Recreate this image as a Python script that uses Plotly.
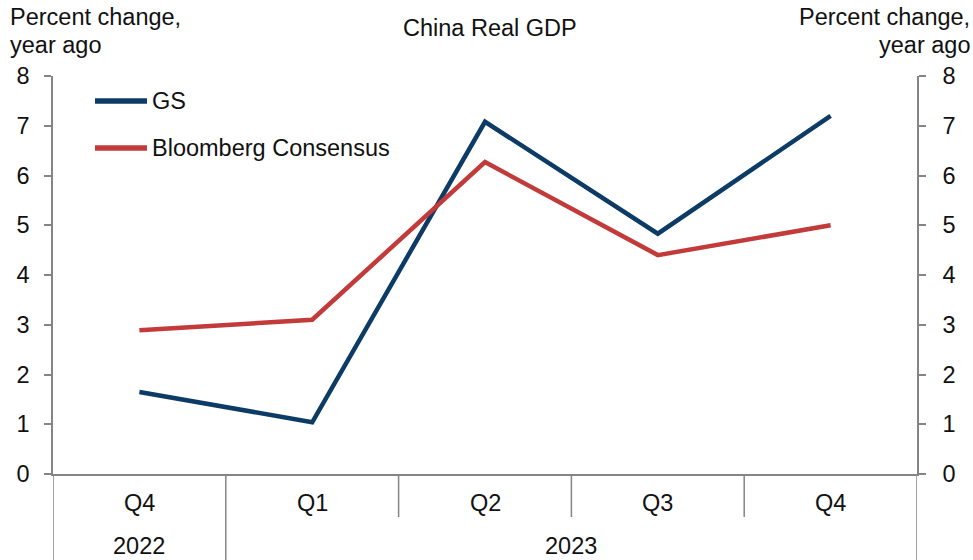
import plotly.graph_objects as go

# Quarterly real GDP growth, percent change year ago
quarters = ["Q4", "Q1", "Q2", "Q3", "Q4"]
years = ["2022", "2023", "2023", "2023", "2023"]
gs = [1.65, 1.04, 7.08, 4.83, 7.20]
consensus = [2.89, 3.10, 6.27, 4.40, 5.00]
y_ticks = [0, 1, 2, 3, 4, 5, 6, 7, 8]

GS_COLOR = "#0c3b66"
CONS_COLOR = "#c33a3a"
AXIS_COLOR = "#858585"
FONT = "Liberation Sans, Arial, sans-serif"
FS = 23.5

W, H = 973, 560
ML, MR, MT, MB = 53, 56, 76, 86
PW, PH = W - ML - MR, H - MT - MB


def px(x):
    return (x - ML) / PW


def py(y):
    return (H - MB - y) / PH


idx = list(range(len(quarters)))

fig = go.Figure()
fig.add_trace(go.Scatter(x=idx, y=gs, mode="lines", name="GS",
                         line=dict(color=GS_COLOR, width=4.5), showlegend=False))
fig.add_trace(go.Scatter(x=idx, y=consensus, mode="lines", name="Bloomberg Consensus",
                         line=dict(color=CONS_COLOR, width=4.5), showlegend=False))
# carrier for the right-hand axis
fig.add_trace(go.Scatter(x=[idx[0]], y=[y_ticks[0]], yaxis="y2", mode="markers",
                         marker=dict(opacity=0), showlegend=False, hoverinfo="skip"))

axis_common = dict(
    range=[y_ticks[0], y_ticks[-1]], tickvals=y_ticks, ticks="outside", ticklen=7,
    tickwidth=1.5, tickcolor=AXIS_COLOR, showline=True, linecolor=AXIS_COLOR,
    linewidth=1.5, showgrid=False, zeroline=False,
    tickfont=dict(family=FONT, size=FS, color="#111"),
)

fig.update_layout(
    width=W, height=H, margin=dict(l=ML, r=MR, t=MT, b=MB),
    paper_bgcolor="white", plot_bgcolor="white",
    font=dict(family=FONT, size=FS, color="#111"),
    xaxis=dict(range=[-0.5, len(quarters) - 0.5], showticklabels=False, ticks="",
               showline=True, linecolor=AXIS_COLOR, linewidth=1.5,
               showgrid=False, zeroline=False),
    yaxis=dict(side="left", ticklabelstandoff=10, **axis_common),
    yaxis2=dict(side="right", overlaying="y", ticklabelstandoff=12, **axis_common),
)

shapes = []
annotations = []

# category labels and dividers below the axis
bottom = py(H)
for i, q in enumerate(quarters):
    annotations.append(dict(x=i, y=py(503), xref="x", yref="paper", text=q,
                            showarrow=False, xanchor="center", yanchor="middle"))
for i in range(1, len(quarters)):
    new_year = years[i] != years[i - 1]
    shapes.append(dict(type="line", xref="x", yref="paper", x0=i - 0.5, x1=i - 0.5,
                       y0=0, y1=bottom if new_year else py(517),
                       line=dict(color=AXIS_COLOR, width=1.5)))
for edge in (-0.5, len(quarters) - 0.5):
    shapes.append(dict(type="line", xref="x", yref="paper", x0=edge, x1=edge,
                       y0=0, y1=bottom, line=dict(color=AXIS_COLOR, width=1.5)))

# year labels centred under their quarters
groups = []
for i, yr in enumerate(years):
    if groups and groups[-1][0] == yr:
        groups[-1][2] = i
    else:
        groups.append([yr, i, i])
for yr, a, b in groups:
    annotations.append(dict(x=(a + b) / 2, y=py(546), xref="x", yref="paper", text=yr,
                            showarrow=False, xanchor="center", yanchor="middle"))

# legend
for label, color, ly in (("GS", GS_COLOR, 101), ("Bloomberg Consensus", CONS_COLOR, 148)):
    shapes.append(dict(type="line", xref="paper", yref="paper", x0=px(95), x1=px(147),
                       y0=py(ly), y1=py(ly), line=dict(color=color, width=5.5)))
    annotations.append(dict(x=px(150), y=py(ly), xref="paper", yref="paper", text=label,
                            showarrow=False, xanchor="left", yanchor="middle"))

# titles
annotations.append(dict(x=px(490), y=py(28), xref="paper", yref="paper",
                        text="China Real GDP", showarrow=False,
                        xanchor="center", yanchor="middle"))
annotations.append(dict(x=px(8), y=py(17), xref="paper", yref="paper",
                        text="Percent change,", showarrow=False,
                        xanchor="left", yanchor="middle"))
annotations.append(dict(x=px(8), y=py(45), xref="paper", yref="paper",
                        text="year ago", showarrow=False,
                        xanchor="left", yanchor="middle"))
annotations.append(dict(x=px(972), y=py(17), xref="paper", yref="paper",
                        text="Percent change,", showarrow=False,
                        xanchor="right", yanchor="middle"))
annotations.append(dict(x=px(972), y=py(45), xref="paper", yref="paper",
                        text="year ago", showarrow=False,
                        xanchor="right", yanchor="middle"))

fig.update_layout(shapes=shapes, annotations=annotations)
fig.write_html("out.html")
